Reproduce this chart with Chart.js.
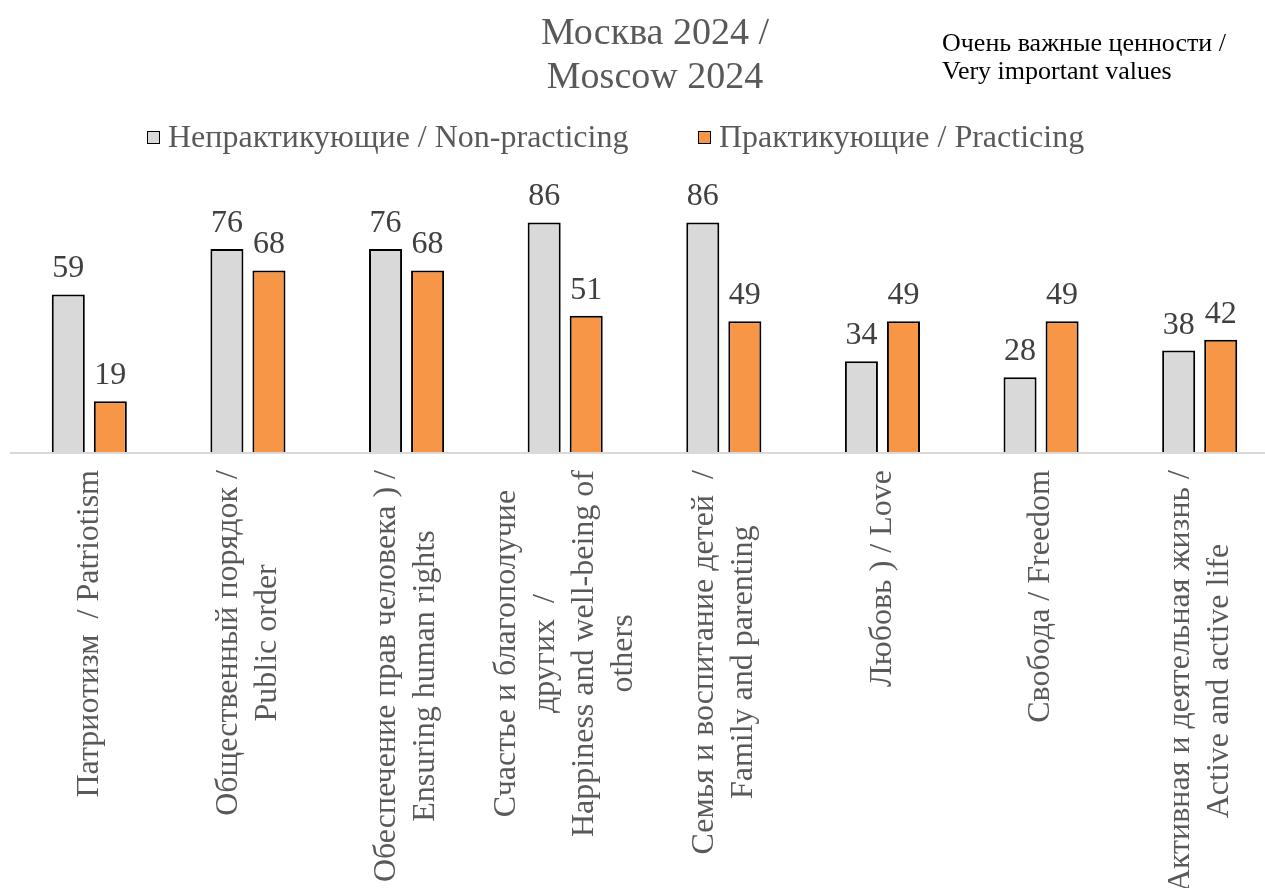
<!DOCTYPE html>
<html>
<head>
<meta charset="utf-8">
<script src="https://cdn.jsdelivr.net/npm/chart.js@4.4.1/dist/chart.umd.min.js"></script>
<style>
	html, body { margin: 0; padding: 0; background: #fff; overflow: hidden; }
	#wrap { width: 1290px; height: 888px; }
</style>
</head>
<body>
<div id="wrap"><canvas id="chart"></canvas></div>
<script>
const titleLines = [`Москва 2024 /`, `Moscow 2024`];
const noteLines = [`Очень важные ценности /`, `Very important values`];
const categories = [
	[`Патриотизм  / Patriotism`],
	[`Общественный порядок /`, `Public order`],
	[`Обеспечение прав человека ) /`, `Ensuring human rights`],
	[`Счастье и благополучие`, `других  /`, `Happiness and well-being of`, `others`],
	[`Семья и воспитание детей  /`, `Family and parenting`],
	[`Любовь ) / Love`],
	[`Свобода / Freedom`],
	[`Активная и деятельная жизнь /`, `Active and active life`]
];
const nonPracticing = [59, 76, 76, 86, 86, 34, 28, 38];
const practicing = [19, 68, 68, 51, 49, 49, 49, 42];
const seriesNames = [`Непрактикующие / Non-practicing`, `Практикующие / Practicing`];

const serif = `"Liberation Serif", "Times New Roman", serif`;
const textGray = `#595959`;

// draws title, note, legend, value labels and the rotated category labels
const decorations = {
	id: `decorations`,
	afterDraw(chart) {
		const {ctx, chartArea, scales} = chart;
		ctx.save();

		ctx.fillStyle = textGray;
		ctx.font = `38px ${serif}`;
		ctx.textAlign = `center`;
		ctx.textBaseline = `middle`;
		titleLines.forEach((line, i) => ctx.fillText(line, 655, 34 + i * 44));

		ctx.fillStyle = `#000`;
		ctx.font = `26px ${serif}`;
		ctx.textAlign = `left`;
		noteLines.forEach((line, i) => ctx.fillText(line, 942, 44 + i * 28));

		// legend
		ctx.font = `32px ${serif}`;
		const legendX = [147, 698];
		chart.data.datasets.forEach((ds, i) => {
			ctx.fillStyle = ds.backgroundColor;
			ctx.fillRect(legendX[i], 131, 13, 13);
			ctx.strokeStyle = `#000`;
			ctx.lineWidth = 1;
			ctx.strokeRect(legendX[i] + .5, 131.5, 12, 12);
			ctx.fillStyle = textGray;
			ctx.textAlign = `left`;
			ctx.fillText(ds.label, legendX[i] + 21, 139);
		});

		// value labels
		ctx.fillStyle = `#404040`;
		ctx.font = `32px ${serif}`;
		ctx.textAlign = `center`;
		ctx.textBaseline = `alphabetic`;
		chart.data.datasets.forEach((ds, i) => {
			chart.getDatasetMeta(i).data.forEach((bar, j) => {
				ctx.fillText(String(ds.data[j]), bar.x, bar.y - 17);
			});
		});

		// axis line
		ctx.strokeStyle = `#d9d9d9`;
		ctx.lineWidth = 2;
		ctx.beginPath();
		ctx.moveTo(chartArea.left, chartArea.bottom + 1);
		ctx.lineTo(chartArea.right, chartArea.bottom + 1);
		ctx.stroke();

		// category labels, rotated, lines centred on each other
		ctx.fillStyle = textGray;
		ctx.font = `32px ${serif}`;
		ctx.textAlign = `center`;
		ctx.textBaseline = `middle`;
		const lineGap = 39;
		categories.forEach((lines, i) => {
			const cx = scales.x.getPixelForValue(i);
			const maxW = Math.max(...lines.map(l => ctx.measureText(l).width));
			const cy = chartArea.bottom + 18 + maxW / 2;
			lines.forEach((line, k) => {
				const lx = cx + (k - (lines.length - 1) / 2) * lineGap;
				ctx.save();
				ctx.translate(lx, cy);
				ctx.rotate(-Math.PI / 2);
				ctx.fillText(line, 0, 0);
				ctx.restore();
			});
		});

		ctx.restore();
	}
};

new Chart(document.getElementById(`chart`), {
	type: `bar`,
	data: {
		labels: categories,
		datasets: [
			{
				label: seriesNames[0],
				data: nonPracticing,
				backgroundColor: `#d9d9d9`,
				borderColor: `#000`,
				borderWidth: 2,
				categoryPercentage: .53,
				barPercentage: .786
			},
			{
				label: seriesNames[1],
				data: practicing,
				backgroundColor: `#f79646`,
				borderColor: `#000`,
				borderWidth: 2,
				categoryPercentage: .53,
				barPercentage: .786
			}
		]
	},
	options: {
		responsive: true,
		maintainAspectRatio: false,
		animation: false,
		layout: {
			padding: {top: 185, bottom: 436, left: 10, right: 11}
		},
		scales: {
			x: {display: false},
			y: {display: false, min: 0, max: 100}
		},
		plugins: {
			legend: {display: false},
			title: {display: false},
			tooltip: {enabled: false}
		}
	},
	plugins: [decorations]
});
</script>
</body>
</html>
